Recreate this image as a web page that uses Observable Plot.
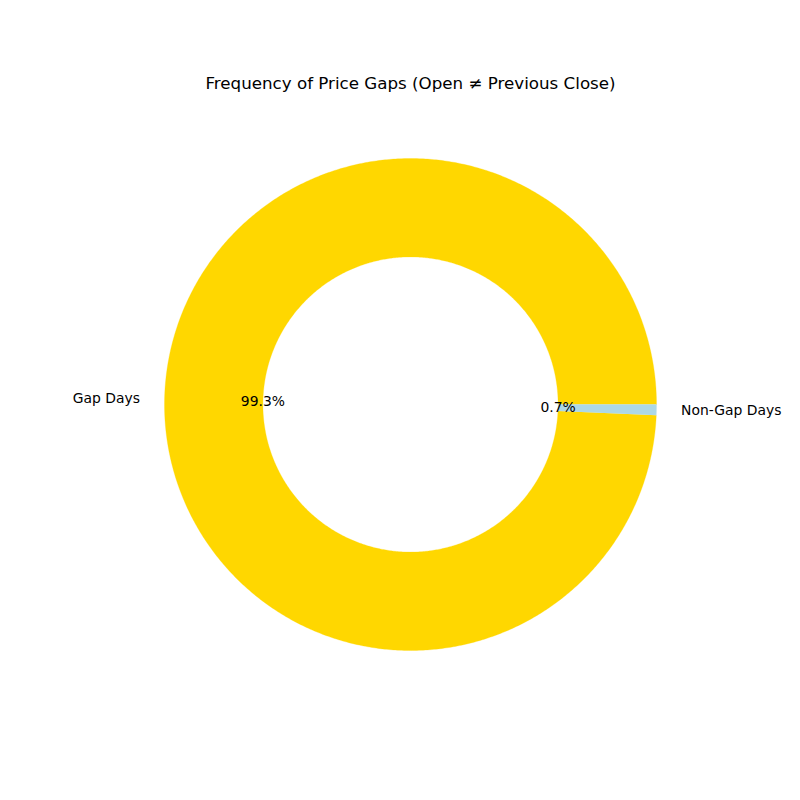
<!DOCTYPE html>
<html>
<head>
<meta charset="utf-8">
<script src="https://cdn.jsdelivr.net/npm/d3@7"></script>
<script src="https://cdn.jsdelivr.net/npm/@observablehq/plot@0.6"></script>
<style>
  html, body { margin: 0; padding: 0; background: #fff; }
  svg { font-family: "DejaVu Sans", sans-serif; }
</style>
</head>
<body>
<div id="chart"></div>
<script>
const labels = ["Gap Days", "Non-Gap Days"];
const values = [99.3, 0.7];
const colors = ["#FFD700", "#ADD8E6"];
const title = "Frequency of Price Gaps (Open \u2260 Previous Close)";

// layout (pixels)
const W = 800, H = 800, CX = 410, CY = 404, R = 246;
const inner = 0.6; // wedge width 0.4

const total = d3.sum(values);
let acc = 0;
const slices = labels.map((label, i) => {
  const a0 = acc / total * 2 * Math.PI;
  acc += values[i];
  const a1 = acc / total * 2 * Math.PI;
  return {label, value: values[i], a0, a1, mid: (a0 + a1) / 2, pct: values[i] / total * 100};
});

// polygon points for each donut wedge
const pts = [];
for (const s of slices) {
  const n = Math.max(4, Math.ceil((s.a1 - s.a0) / (Math.PI / 360)));
  for (let k = 0; k <= n; k++) {
    const a = s.a0 + (s.a1 - s.a0) * k / n;
    pts.push({label: s.label, x: Math.cos(a), y: Math.sin(a)});
  }
  for (let k = n; k >= 0; k--) {
    const a = s.a0 + (s.a1 - s.a0) * k / n;
    pts.push({label: s.label, x: inner * Math.cos(a), y: inner * Math.sin(a)});
  }
}

const nameLabels = slices.map(s => ({
  text: s.label,
  x: 1.1 * Math.cos(s.mid),
  y: 1.1 * Math.sin(s.mid),
  anchor: Math.cos(s.mid) > 0 ? "start" : "end"
}));
const pctLabels = slices.map(s => ({
  text: s.pct.toFixed(1) + "%",
  x: 0.6 * Math.cos(s.mid),
  y: 0.6 * Math.sin(s.mid)
}));

const chart = Plot.plot({
  width: W,
  height: H,
  margin: 0,
  x: {domain: [-CX / R, (W - CX) / R], range: [0, W], axis: null},
  y: {domain: [CY / R, -(H - CY) / R], range: [0, H], axis: null},
  color: {domain: labels, range: colors},
  style: {fontFamily: "DejaVu Sans, sans-serif", background: "#fff"},
  marks: [
    Plot.line(pts, {x: "x", y: "y", z: "label", fill: "label", stroke: "label", strokeWidth: 0.3, curve: "linear"}),
    Plot.text(nameLabels.filter(d => d.anchor === "end"), {x: "x", y: "y", text: "text", textAnchor: "end", fontSize: 13.9, fill: "#000"}),
    Plot.text(nameLabels.filter(d => d.anchor === "start"), {x: "x", y: "y", text: "text", textAnchor: "start", fontSize: 13.9, fill: "#000"}),
    Plot.text(pctLabels, {x: "x", y: "y", text: "text", fontSize: 13.9, fill: "#000"}),
    Plot.text([title], {frameAnchor: "top", dy: 83, dx: 10, text: d => d, fontSize: 16.7, fill: "#000", lineAnchor: "middle"})
  ]
});
document.getElementById("chart").appendChild(chart);
</script>
</body>
</html>
